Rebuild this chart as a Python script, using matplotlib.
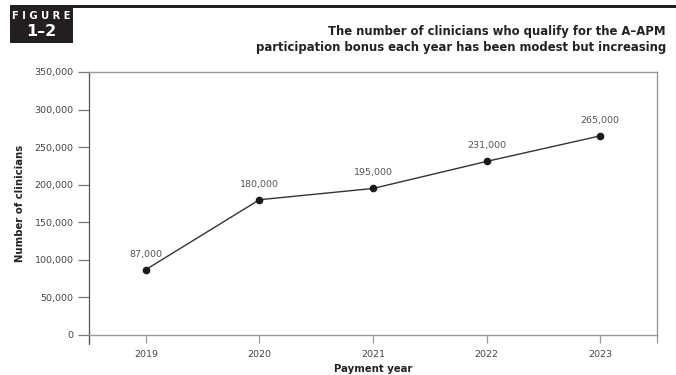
import matplotlib.pyplot as plt
from matplotlib.patches import Rectangle
from matplotlib.ticker import FuncFormatter

plt.switch_backend('Agg')
plt.rcParams['font.family'] = ['DejaVu Sans']

# --- DATOS ---
years = ['2019', '2020', '2021', '2022', '2023']
clinicians = [87000, 180000, 195000, 231000, 265000]
y_ticks = [0, 50000, 100000, 150000, 200000, 250000, 300000, 350000]

title = ("The number of clinicians who qualify for the A\u2013APM\n"
         "participation bonus each year has been modest but increasing")

fig = plt.figure(figsize=(6.76, 3.75), dpi=100)
ax = fig.add_axes([0.1317, 0.1067, 0.8402, 0.7013])

x = list(range(len(years)))
ax.plot(x, clinicians, color='#333333', lw=1.0, marker='o', ms=4.5,
        markerfacecolor='#1a1a1a', markeredgecolor='#1a1a1a', zorder=3)
for xi, v in zip(x, clinicians):
    ax.annotate(f"{v:,}", (xi, v), xytext=(0, 8), textcoords='offset points',
                ha='center', va='bottom', fontsize=6.8, color='#555555')

ax.set_xlim(-0.5, len(years) - 0.5)
ax.set_ylim(0, 350000)
ax.set_xticks(x)
ax.set_xticklabels(years)
ax.set_xticks([-0.5, len(years) - 0.5], minor=True)
ax.set_yticks(y_ticks)
ax.yaxis.set_major_formatter(FuncFormatter(lambda v, p: f"{int(v):,}"))

ax.tick_params(axis='x', which='both', length=6, width=0.9, color='#999999',
               labelsize=6.8, labelcolor='#444444', pad=5)
ax.tick_params(axis='y', length=8, width=0.9, color='#777777',
               labelsize=6.8, labelcolor='#444444', pad=3)
for side in ['top', 'right', 'bottom']:
    ax.spines[side].set_color('#999999')
    ax.spines[side].set_linewidth(1.0)
ax.spines['left'].set_color('#555555')
ax.spines['left'].set_linewidth(0.9)
ax.spines['left'].set_bounds(-12000, 350000)
ax.spines['left'].set_clip_on(False)

ax.set_xlabel('Payment year', fontsize=7.3, fontweight='bold', color='#222222')
ax.xaxis.set_label_coords(0.5, -0.11)
ax.set_ylabel('Number of clinicians', fontsize=7.3, fontweight='bold', color='#222222')
ax.yaxis.set_label_coords(-0.112, 0.5)

# --- CABECERA ---
fig.add_artist(Rectangle((10 / 676, 1 - 43 / 375), 63 / 676, 38 / 375,
                         transform=fig.transFigure, facecolor='#231f20', edgecolor='none'))
fig.add_artist(Rectangle((73 / 676, 1 - 8 / 375), 603 / 676, 3.5 / 375,
                         transform=fig.transFigure, facecolor='#231f20', edgecolor='none'))
fig.text(41.5 / 676, 1 - 16 / 375, 'F I G U R E', color='white', fontsize=7.2, fontweight='bold',
         ha='center', va='center')
fig.text(41.5 / 676, 1 - 32 / 375, '1\u20132', color='white', fontsize=11.5, fontweight='bold',
         ha='center', va='center')
fig.text(666 / 676, 1 - 39.5 / 375, title, ha='right', va='center', fontsize=8.4,
         fontweight='bold', color='#222222', linespacing=1.3)

fig.savefig('out.png', dpi=100)
